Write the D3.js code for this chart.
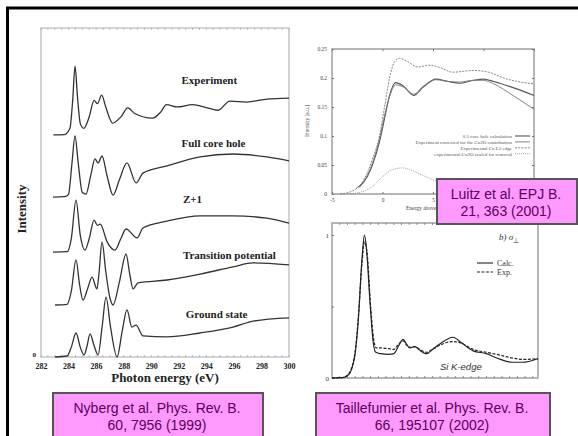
<!DOCTYPE html>
<html>
<head>
<meta charset="utf-8">
<script src="https://cdn.jsdelivr.net/npm/d3@7"></script>
<style>
body { margin: 0; background: #fff; }
text { font-family: "Liberation Serif", "Times New Roman", serif; }
.ref { font-family: "Liberation Sans", Arial, sans-serif; }
</style>
</head>
<body>
<svg id="chart" width="578" height="436"></svg>
<script>
// ---- left panel (Nyberg): photon energy (eV) vs intensity, stacked spectra
const nybergTicks = [282, 284, 286, 288, 290, 292, 294, 296, 298, 300];
const nybergNames = ["Experiment", "Full core hole", "Z+1", "Transition potential", "Ground state"];
const experiment = [[282.9,6.75],[283.7,6.76],[284.1,6.95],[284.3,7.8],[284.47,8.84],[284.65,7.9],[284.85,7.1],[285.1,6.95],[285.5,7.3],[285.85,7.8],[286.1,7.7],[286.4,7.96],[286.7,7.6],[287.2,7.11],[287.8,7.3],[288.3,7.57],[288.8,7.4],[290.1,7.26],[290.7,7.45],[291.1,7.67],[291.9,7.6],[293.0,7.67],[294.0,7.58],[294.85,7.5],[295.7,7.78],[296.95,7.75],[298.4,7.84],[300,7.87]];
const fullCoreHole = [[282.87,4.86],[283.8,4.88],[284.0,4.95],[284.25,5.9],[284.47,6.72],[284.7,5.9],[285.0,5.0],[285.27,4.95],[285.6,5.5],[285.92,6.02],[286.14,5.9],[286.43,6.11],[286.8,5.5],[287.23,4.92],[287.7,5.4],[288.24,5.9],[288.9,5.29],[289.4,5.59],[291.15,5.81],[293.54,6.08],[295.94,6.17],[298.4,6.08],[300,5.96]];
const zPlusOne = [[282.87,3.19],[283.9,3.2],[284.2,3.6],[284.54,4.77],[284.85,3.7],[285.19,3.25],[285.5,3.6],[285.85,4.16],[286.1,4.0],[286.3,4.04],[286.8,3.5],[287.37,3.25],[287.8,3.6],[288.17,3.89],[288.97,3.62],[289.4,3.92],[291.15,4.13],[293.54,4.29],[295.94,4.29],[298.4,4.22],[300,4.07]];
const transitionPot = [[283.02,1.58],[283.9,1.6],[284.2,2.0],[284.54,2.95],[284.8,2.2],[285.05,1.73],[285.4,2.1],[285.7,2.43],[286.06,2.07],[286.2,2.5],[286.43,3.5],[286.7,2.6],[287.0,1.8],[287.23,1.58],[287.7,2.3],[288.17,3.13],[288.45,2.5],[288.68,2.07],[289.04,2.25],[291.15,2.34],[293.54,2.52],[295.94,2.74],[297.39,2.86],[300,2.8]];
const groundState = [[283.02,0],[283.89,0.03],[284.2,0.3],[284.54,0.73],[284.85,0.3],[285.12,0.06],[285.35,0.35],[285.56,0.7],[285.85,0.35],[286.14,0.06],[286.43,0.9],[286.72,1.82],[287.05,0.9],[287.52,0],[287.9,0.8],[288.24,1.43],[288.6,0.91],[288.9,0.97],[289.4,0.64],[291.15,0.61],[293.54,0.73],[295.94,0.91],[297.39,1.09],[300,1.19]];

// ---- top right panel (Luitz): energy above edge vs intensity
const luitzXTicks = [-5, 0, 5, 10, 15];
const luitzXLabels = [-5, 0, 5];   // 10 and 15 sit under the reference box
const luitzYTicks = [0, 0.05, 0.1, 0.15, 0.2, 0.25];
const luitzNames = ["0.5 core hole calculation", "Experiment corrected for the Cu2O contribution", "Experimental Cu L3 edge", "experimental Cu2O scaled for removal"];
const coreHoleCalc = [[-2.3,0.012],[-1.5,0.03],[-1,0.05],[-0.3,0.09],[0.2,0.13],[0.7,0.17],[1.3,0.192],[2,0.187],[3.1,0.17],[4,0.184],[5.3,0.198],[6.5,0.194],[7.6,0.191],[9,0.196],[10,0.198],[11,0.194],[13,0.183],[15,0.17]];
const expCorrected = [[-2.6,0.01],[-1.5,0.032],[-1,0.053],[-0.3,0.095],[0.2,0.135],[0.7,0.168],[1.3,0.188],[2,0.185],[3.1,0.172],[4,0.185],[5.3,0.197],[6.5,0.194],[7.6,0.193],[9,0.196],[10,0.196],[11,0.19],[13,0.169],[15,0.146]];
const expCuL3 = [[-4.2,0],[-3,0.005],[-2,0.02],[-1,0.06],[-0.3,0.1],[0.2,0.15],[0.7,0.2],[1.2,0.228],[1.7,0.234],[2.5,0.228],[3.5,0.219],[4.6,0.222],[5.5,0.219],[7,0.21],[9,0.213],[10.5,0.21],[12,0.2],[14,0.192],[15,0.19]];
const cu2oScaled = [[-3.5,0],[-2,0.004],[-1,0.013],[0,0.03],[1,0.042],[2,0.045],[3,0.04],[4,0.032],[5,0.025],[6,0.021],[8,0.018],[11,0.016],[15,0.015]];

// ---- bottom right panel (Taillefumier): Si K-edge
const siNames = ["Calc.", "Exp."];
const siCalc = [[0,0],[2,0.002],[3,0.015],[3.8,0.06],[4.5,0.17],[5.1,0.4],[5.8,0.82],[6.3,1.0],[6.7,0.9],[7.4,0.52],[8.0,0.25],[8.5,0.18],[9.5,0.17],[11,0.165],[12,0.17],[13,0.23],[13.8,0.27],[14.5,0.235],[15.1,0.21],[16.1,0.22],[17,0.195],[18.4,0.17],[19.5,0.2],[21,0.24],[23.5,0.285],[25,0.25],[27.4,0.19],[30,0.17],[32,0.14],[35,0.11],[37,0.11],[40,0.135]];
const siExp = [[0,0],[2,0.003],[3,0.02],[3.8,0.07],[4.5,0.19],[5.1,0.42],[5.8,0.79],[6.3,0.95],[6.8,0.88],[7.5,0.5],[8.1,0.27],[8.6,0.21],[9.5,0.21],[11,0.205],[12,0.2],[13,0.24],[13.8,0.26],[14.5,0.23],[15.1,0.215],[16.1,0.22],[17,0.2],[18.4,0.18],[19.5,0.2],[21,0.23],[23.5,0.255],[25,0.245],[27.4,0.2],[30,0.18],[32,0.165],[35,0.14],[37,0.13],[40,0.135]];

const refs = [
	["Nyberg et al. Phys. Rev. B.", "60, 7956 (1999)"],
	["Luitz et al. EPJ B.", "21, 363 (2001)"],
	["Taillefumier et al. Phys. Rev. B.", "66, 195107 (2002)"]
];

const svg = d3.select("#chart");

// slide frame (cropped at right and bottom)
svg.append("rect")
	.attr("x", 7.5).attr("y", 8)
	.attr("width", 640).attr("height", 480)
	.attr("fill", "none").attr("stroke", "#000").attr("stroke-width", 3);

function minorTicks(g, scale, values, y0, dir, len, color) {
	g.append("g").selectAll("line").data(values).enter().append("line")
		.attr("x1", d => scale(d)).attr("x2", d => scale(d))
		.attr("y1", y0).attr("y2", y0 + dir * len)
		.attr("stroke", color).attr("stroke-width", 0.8);
}

// ================= left panel =================
const p1 = svg.append("g");
const x1 = d3.scaleLinear([282, 300], [41, 289]);
const y1 = d3.scaleLinear([0, 10], [357, 28]);

p1.append("rect").attr("x", 41).attr("y", 28).attr("width", 248).attr("height", 329)
	.attr("fill", "none").attr("stroke", "#aaa").attr("stroke-width", 1);
minorTicks(p1, x1, d3.range(282, 300.01, 0.5), 28, 1, 2, "#aaa");
minorTicks(p1, x1, d3.range(282, 300.01, 0.5), 357, -1, 2, "#aaa");

const ax1 = p1.append("g").attr("transform", "translate(0,357)")
	.call(d3.axisBottom(x1).tickValues(nybergTicks).tickSize(0).tickPadding(6));
ax1.select(".domain").remove();
ax1.selectAll("text").attr("font-family", "Liberation Serif").attr("font-weight", "bold").attr("font-size", 8).attr("fill", "#222");

const ay1 = p1.append("g").attr("transform", "translate(41,0)")
	.call(d3.axisLeft(y1).tickValues([0]).tickSize(0).tickPadding(5));
ay1.select(".domain").remove();
ay1.selectAll("text").attr("font-family", "Liberation Serif").attr("font-weight", "bold").attr("font-size", 7).attr("fill", "#222").attr("dy", "-0.1em");

p1.append("text").attr("x", 165).attr("y", 382).attr("text-anchor", "middle")
	.attr("font-weight", "bold").attr("font-size", 13).attr("fill", "#222")
	.text("Photon energy (eV)");
p1.append("text").attr("transform", "translate(26,209) rotate(-90)").attr("text-anchor", "middle")
	.attr("font-weight", "bold").attr("font-size", 13).attr("fill", "#222")
	.text("Intensity");

const line1 = d3.line().x(d => x1(d[0])).y(d => y1(d[1])).curve(d3.curveMonotoneX);
p1.append("g").selectAll("path")
	.data([experiment, fullCoreHole, zPlusOne, transitionPot, groundState])
	.enter().append("path")
	.attr("d", line1).attr("fill", "none").attr("stroke", "#333").attr("stroke-width", 1.3);

const nybergLabelPos = [[292.2, 8.3], [292.2, 6.38], [292.3, 4.68], [292.3, 2.98], [292.5, 1.19]];
p1.append("g").selectAll("text").data(nybergNames).enter().append("text")
	.attr("x", (d, i) => x1(nybergLabelPos[i][0]))
	.attr("y", (d, i) => y1(nybergLabelPos[i][1]))
	.attr("font-weight", "bold").attr("font-size", 11).attr("fill", "#222")
	.text(d => d);

// ================= top right panel =================
const p2 = svg.append("g");
const x2 = d3.scaleLinear([-5, 15], [332, 534]);
const y2 = d3.scaleLinear([0, 0.25], [194, 49]);

p2.append("rect").attr("x", 332).attr("y", 49).attr("width", 202).attr("height", 145)
	.attr("fill", "none").attr("stroke", "#999").attr("stroke-width", 1.4);

const ax2 = p2.append("g").attr("transform", "translate(0,194)")
	.call(d3.axisBottom(x2).tickValues(luitzXTicks).tickSize(-2).tickPadding(4)
		.tickFormat(d => luitzXLabels.includes(d) ? d : ""));
ax2.select(".domain").remove();
const ax2t = p2.append("g").attr("transform", "translate(0,49)")
	.call(d3.axisTop(x2).tickValues(luitzXTicks).tickSize(-2).tickFormat(""));
ax2t.select(".domain").remove();
const ay2 = p2.append("g").attr("transform", "translate(332,0)")
	.call(d3.axisLeft(y2).tickValues(luitzYTicks).tickSize(-2).tickPadding(5).tickFormat(d3.format("~g")));
ay2.select(".domain").remove();
const ay2r = p2.append("g").attr("transform", "translate(534,0)")
	.call(d3.axisRight(y2).tickValues(luitzYTicks).tickSize(-2).tickFormat(""));
ay2r.select(".domain").remove();
p2.selectAll(".tick line").attr("stroke", "#777");
p2.selectAll(".tick text").attr("font-family", "Liberation Serif").attr("font-size", 5.5).attr("fill", "#444");

p2.append("text").attr("transform", "translate(309,121) rotate(-90)").attr("text-anchor", "middle")
	.attr("font-size", 5.5).attr("fill", "#444").text("Intensity [a.u.]");
// axis title runs under the Luitz box, as in the slide
p2.append("text").attr("x", 406).attr("y", 210)
	.attr("font-size", 5.5).attr("fill", "#444").text("Energy above");

const luitzStyles = [
	{ c: "#555", w: 1.1, dash: null },
	{ c: "#777", w: 0.9, dash: null },
	{ c: "#777", w: 0.9, dash: "2,1.2" },
	{ c: "#999", w: 0.9, dash: "1,1" }
];
const line2 = d3.line().x(d => x2(d[0])).y(d => y2(d[1])).curve(d3.curveMonotoneX);
p2.append("g").selectAll("path")
	.data([coreHoleCalc, expCorrected, expCuL3, cu2oScaled])
	.enter().append("path")
	.attr("d", line2).attr("fill", "none")
	.attr("stroke", (d, i) => luitzStyles[i].c)
	.attr("stroke-width", (d, i) => luitzStyles[i].w)
	.attr("stroke-dasharray", (d, i) => luitzStyles[i].dash);

const leg2 = p2.append("g").selectAll("g").data(luitzNames).enter().append("g")
	.attr("transform", (d, i) => "translate(0," + (136 + i * 5.9) + ")");
leg2.append("text").attr("x", 512).attr("y", 1.8).attr("text-anchor", "end")
	.attr("font-size", 5).attr("fill", "#555").text(d => d);
leg2.append("line").attr("x1", 515).attr("x2", 530).attr("y1", 0).attr("y2", 0)
	.attr("stroke", (d, i) => luitzStyles[i].c)
	.attr("stroke-width", (d, i) => luitzStyles[i].w)
	.attr("stroke-dasharray", (d, i) => luitzStyles[i].dash);

// ================= bottom right panel =================
const p3 = svg.append("g");
const x3 = d3.scaleLinear([0, 40], [332, 538]);
const y3 = d3.scaleLinear([0, 1], [378, 235]);

p3.append("rect").attr("x", 332).attr("y", 223).attr("width", 206).attr("height", 155)
	.attr("fill", "none").attr("stroke", "#999").attr("stroke-width", 1.4);
minorTicks(p3, x3, d3.range(1.5, 40, 1.5), 223, 1, 2, "#777");
minorTicks(p3, x3, d3.range(1.5, 40, 1.5), 378, -1, 2, "#777");

const ay3 = p3.append("g").attr("transform", "translate(332,0)")
	.call(d3.axisLeft(y3).tickValues([0, 0.5, 1]).tickSize(-2).tickPadding(3).tickFormat(d => d === 0.5 ? "" : d));
ay3.select(".domain").remove();
ay3.selectAll(".tick line").attr("stroke", "#777");
ay3.selectAll("text").attr("font-family", "Liberation Serif").attr("font-size", 7).attr("fill", "#444");

const line3 = d3.line().x(d => x3(d[0])).y(d => y3(d[1])).curve(d3.curveMonotoneX);
const siDash = [null, "3,1.5"];
p3.append("g").selectAll("path").data([siCalc, siExp]).enter().append("path")
	.attr("d", line3).attr("fill", "none").attr("stroke", "#222").attr("stroke-width", 1.2)
	.attr("stroke-dasharray", (d, i) => siDash[i]);

const leg3 = p3.append("g").selectAll("g").data(siNames).enter().append("g")
	.attr("transform", (d, i) => "translate(0," + (263 + i * 9) + ")");
leg3.append("line").attr("x1", 477).attr("x2", 493).attr("y1", 0).attr("y2", 0)
	.attr("stroke", "#222").attr("stroke-width", 1.1).attr("stroke-dasharray", (d, i) => siDash[i]);
leg3.append("text").attr("x", 497).attr("y", 3).attr("font-size", 8).attr("fill", "#333").text(d => d);

const sig = p3.append("text").attr("x", 499).attr("y", 240).attr("font-size", 9).attr("font-style", "italic").attr("fill", "#333");
sig.append("tspan").text("b) σ");
sig.append("tspan").attr("dy", 3).attr("font-size", 7).attr("font-style", "normal").text("⊥");
p3.append("text").attr("class", "ref").attr("x", 440).attr("y", 370)
	.attr("font-size", 9.5).attr("font-style", "italic").attr("fill", "#333").text("Si K-edge");

// ================= reference boxes =================
const refBoxes = [
	{ x: 53, y: 393, w: 210, h: 50 },
	{ x: 437, y: 179, w: 140, h: 45 },
	{ x: 316, y: 393, w: 234, h: 50 }
];
const boxes = svg.append("g").selectAll("g").data(refs).enter().append("g");
boxes.append("rect")
	.attr("x", (d, i) => refBoxes[i].x).attr("y", (d, i) => refBoxes[i].y)
	.attr("width", (d, i) => refBoxes[i].w).attr("height", (d, i) => refBoxes[i].h)
	.attr("fill", "#ff99ff").attr("stroke", "#555").attr("stroke-width", 2);
boxes.each(function(d, i) {
	const b = refBoxes[i];
	const t = d3.select(this).append("text").attr("class", "ref")
		.attr("text-anchor", "middle").attr("font-size", 14).attr("fill", "#5c005c");
	d.forEach((s, k) => t.append("tspan").attr("x", b.x + b.w / 2 - 1).attr("y", b.y + 20 + k * 16.5).text(s));
});
</script>
</body>
</html>
